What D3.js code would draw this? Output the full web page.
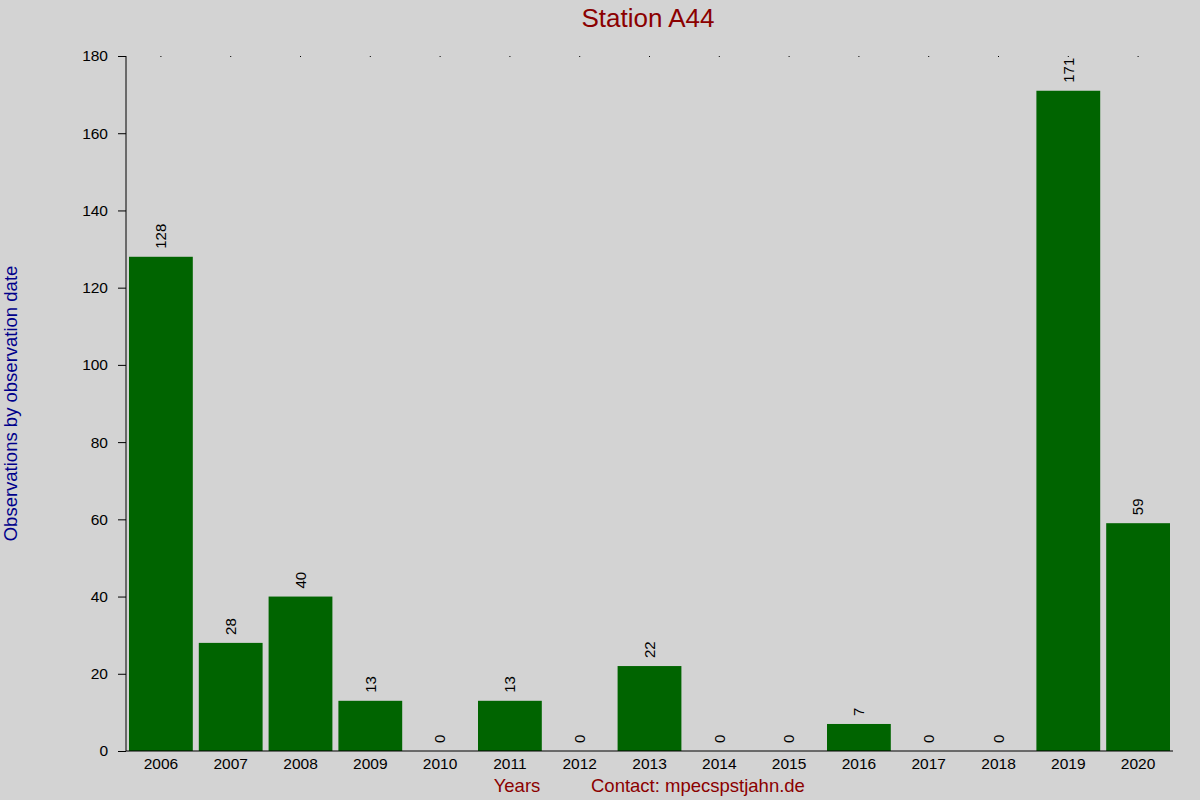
<!DOCTYPE html>
<html>
<head>
<meta charset="utf-8">
<script src="https://cdn.jsdelivr.net/npm/d3@7"></script>
<style>
  body { margin: 0; background: #d3d3d3; }
  svg { display: block; font-family: "Liberation Sans", Arial, sans-serif; }
</style>
</head>
<body>
<div id="chart"></div>
<script>
var years = ["2006", "2007", "2008", "2009", "2010", "2011", "2012", "2013",
    "2014", "2015", "2016", "2017", "2018", "2019", "2020"];
var counts = [128, 28, 40, 13, 0, 13, 0, 22, 0, 0, 7, 0, 0, 171, 59];
var yTicks = [0, 20, 40, 60, 80, 100, 120, 140, 160, 180];

var margin = {top: 56, right: 27, bottom: 49, left: 126};
var width = 1200 - margin.left - margin.right;
var height = 800 - margin.top - margin.bottom;

var svg = d3.select("#chart")
    .append("svg")
    .attr("width", 1200)
    .attr("height", 800)
    .style("background", "#d3d3d3");

var g = svg.append("g")
    .attr("transform", "translate(" + margin.left + "," + margin.top + ")");

var xScale = d3.scaleBand()
    .domain(years)
    .range([0, width])
    .paddingInner(0.086)
    .paddingOuter(0.043);

var yScale = d3.scaleLinear()
    .domain([0, 180])
    .range([height, 0]);

// bars
g.selectAll(".bar")
    .data(years)
    .enter().append("rect")
    .attr("class", "bar")
    .attr("x", function(d) { return xScale(d); })
    .attr("y", function(d, i) { return yScale(counts[i]); })
    .attr("width", xScale.bandwidth())
    .attr("height", function(d, i) { return height - yScale(counts[i]); })
    .attr("fill", "#006400");

// value labels
g.selectAll(".label")
    .data(years)
    .enter().append("text")
    .attr("class", "label")
    .attr("transform", function(d, i) {
        var x = xScale(d) + xScale.bandwidth() / 2;
        var y = yScale(counts[i]) - 8;
        return "translate(" + x + "," + y + ") rotate(-90)";
    })
    .attr("dy", "0.35em")
    .attr("text-anchor", "start")
    .style("font-size", "15px")
    .attr("fill", "#000")
    .text(function(d, i) { return counts[i]; });

// y axis
var yAxis = d3.axisLeft(yScale)
    .tickValues(yTicks)
    .tickSize(8)
    .tickPadding(10);

var yG = g.append("g").call(yAxis);
yG.select(".domain").attr("stroke", "#000").attr("d", "M0,0V" + height);
yG.selectAll("text").style("font-size", "15.5px").attr("fill", "#000");

// x axis
var xAxis = d3.axisBottom(xScale)
    .tickSize(0)
    .tickPadding(7);

var xG = g.append("g")
    .attr("transform", "translate(0," + height + ")")
    .call(xAxis);
xG.select(".domain").attr("stroke", "#000").attr("d", "M0,0H" + width);
xG.selectAll("text").style("font-size", "15.5px").attr("fill", "#000");

// small marks along the top
g.selectAll(".topdot")
    .data(years)
    .enter().append("rect")
    .attr("class", "topdot")
    .attr("x", function(d) { return xScale(d) + xScale.bandwidth() / 2 - 0.5; })
    .attr("y", 0)
    .attr("width", 1)
    .attr("height", 1)
    .attr("fill", "#000");

// title
svg.append("text")
    .attr("x", 648)
    .attr("y", 27)
    .attr("text-anchor", "middle")
    .style("font-size", "26px")
    .attr("fill", "#8b0000")
    .text("Station A44");

// y label
svg.append("text")
    .attr("transform", "translate(17," + (margin.top + height / 2) + ") rotate(-90)")
    .attr("text-anchor", "middle")
    .style("font-size", "18.5px")
    .attr("fill", "#00008b")
    .text("Observations by observation date");

// x labels
svg.append("text")
    .attr("x", 517)
    .attr("y", 792)
    .attr("text-anchor", "middle")
    .style("font-size", "18.5px")
    .attr("fill", "#8b0000")
    .text("Years");

svg.append("text")
    .attr("x", 591)
    .attr("y", 792)
    .attr("text-anchor", "start")
    .style("font-size", "18.5px")
    .attr("fill", "#8b0000")
    .text("Contact: mpecspstjahn.de");
</script>
</body>
</html>
